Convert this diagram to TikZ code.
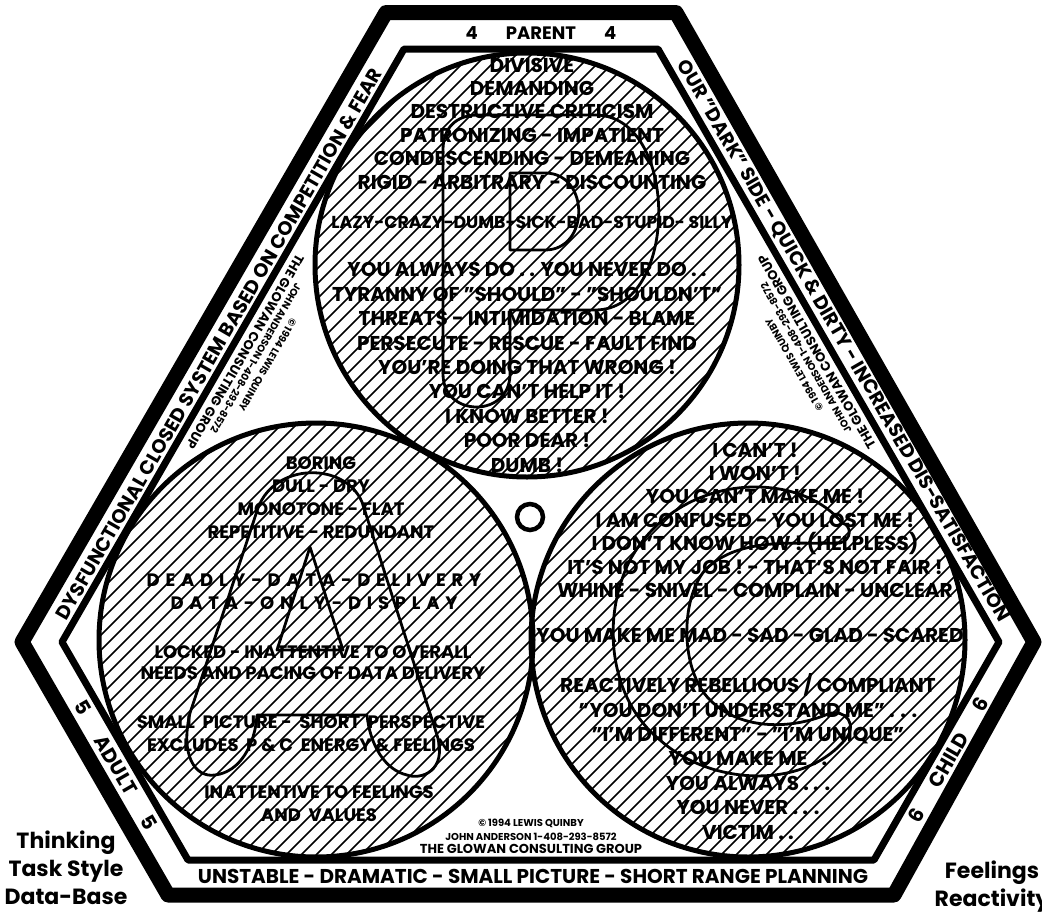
\documentclass[tikz,border=0pt]{standalone}
\usepackage{fontspec}
\setmainfont{Poppins}
\usetikzlibrary{calc}

\begin{document}
\begin{tikzpicture}[x=1pt, y=-1pt,
        hx/.style={line width=#1, line join=round},
        rim/.style={line width=5pt},
        glyph/.style={line width=2.8pt, line join=round},
        hatch/.style={line width=1.5pt},
        tx/.style={align=center, inner sep=0pt, font=\bfseries\fontsize{20}{23.4}\selectfont},
        txa/.style={align=center, inner sep=0pt, font=\bfseries\fontsize{18}{23}\selectfont},
        bd/.style={inner sep=0pt, font=\bfseries\fontsize{19.3}{24}\selectfont},
        sm/.style={align=center, inner sep=0pt, font=\bfseries\fontsize{10}{13.5}\selectfont},
        cn/.style={align=center, inner sep=0pt, font=\bfseries\fontsize{22}{28}\selectfont}
    ]
        \useasboundingbox (0,0) rectangle (1042,911);
        \fill[white] (0,0) rectangle (1042,911);
        \coordinate (P) at (527,265);
        \coordinate (A) at (316,640);
        \coordinate (C) at (748,640);

        \node[tx] (p1) at (532,123.5) {DIVISIVE\\DEMANDING\\DESTRUCTIVE CRITICISM\\PATRONIZING - IMPATIENT\\CONDESCENDING - DEMEANING\\RIGID - ARBITRARY - DISCOUNTING};
        \node[tx, font=\bfseries\fontsize{17.3}{20}\selectfont] (p2) at (532,222) {LAZY-CRAZY-DUMB-SICK-BAD-STUPID- SILLY};
        \node[tx] (p3) at (527,367.5) {YOU ALWAYS DO . . YOU NEVER DO . .\\[1pt]TYRANNY OF "SHOULD" - "SHOULDN'T"\\[1pt]THREATS - INTIMIDATION - BLAME\\[1pt]PERSECUTE - RESCUE - FAULT FIND\\[1pt]YOU'RE DOING THAT WRONG !\\[1pt]YOU CAN'T HELP IT !\\[1pt]I KNOW BETTER !\\[1pt]POOR DEAR !\\[1pt]DUMB !};

        \node[txa] (a1) at (321,498) {BORING\\DULL - DRY\\MONOTONE - FLAT\\REPETITIVE - REDUNDANT};
        \node[txa] (a2) at (314,591.5) {\spaceskip=5.8pt\relax D E A D L Y - D A T A - D E L I V E R Y\\\spaceskip=5.8pt\relax D A T A - O N L Y - D I S P L A Y};
        \node[txa] (a3) at (313,662.5) {LOCKED - INATTENTIVE TO OVERALL\\[-2pt]NEEDS AND PACING OF DATA DELIVERY};
        \node[txa] (a4) at (311,733.5) {SMALL\ \ PICTURE -\ \ SHORT\ \ PERSPECTIVE\\EXCLUDES\ \ P \& C\ \ ENERGY \& FEELINGS};
        \node[txa] (a5) at (319,803.5) {INATTENTIVE TO FEELINGS\\AND\ \ VALUES};

        \node[tx] (c1) at (755,520) {I CAN'T !\\I WON'T !\\YOU CAN'T MAKE ME !\\I AM CONFUSED - YOU LOST ME !\\I DON'T KNOW HOW ! (HELPLESS)\\IT'S NOT MY JOB ! - THAT'S NOT FAIR !\\WHINE - SNIVEL - COMPLAIN - UNCLEAR};
        \node[tx] (c2) at (750,635) {YOU MAKE ME MAD - SAD - GLAD - SCARED};
        \node[tx] (c3) at (748,756.5) {REACTIVELY REBELLIOUS / COMPLIANT\\[1pt]"YOU DON'T UNDERSTAND ME" . . .\\[1pt]"I'M DIFFERENT" - "I'M UNIQUE"\\[1pt]YOU MAKE ME . .\\[1pt]YOU ALWAYS . . .\\[1pt]YOU NEVER . . .\\[1pt]VICTIM . .};

        \begin{scope}
            \clip (P) circle[radius=212] (A) circle[radius=217] (C) circle[radius=217];
            \foreach \k in {481,496,...,1720}
                \draw[hatch] (\k,0) -- ++(-1000,1000);
        \end{scope}

        \draw[glyph] (443,374) -- (443,150) .. controls (443,128) and (456,115) .. (478,115) -- (595,115)
            .. controls (680,115) and (680,310) .. (595,310) -- (510,310) -- (510,374)
            .. controls (510,418) and (443,418) .. (443,374) -- cycle;
        \draw[glyph] (510,173) -- (545,173) .. controls (590,173) and (590,250) .. (545,250) -- (510,250) -- cycle;

        \draw[glyph] (190,713) -- (258,508) .. controls (275,462) and (345,462) .. (362,502) -- (437,735)
            .. controls (448,772) and (420,780) .. (407,775) .. controls (385,770) and (370,745) .. (367,715)
            -- (257,715) .. controls (255,745) and (240,772) .. (215,775)
            .. controls (195,778) and (180,755) .. (190,713) -- cycle;
        \draw[glyph] (310,547) -- (343,650) -- (277,650) -- cycle;

        \draw[glyph] (842,523) .. controls (800,470) and (680,470) .. (630,560)
            .. controls (600,620) and (610,700) .. (660,740)
            .. controls (710,785) and (800,790) .. (843,742)
            .. controls (860,725) and (845,708) .. (828,714)
            .. controls (790,730) and (740,730) .. (710,700)
            .. controls (680,670) and (680,600) .. (705,570)
            .. controls (740,535) and (800,545) .. (840,543)
            .. controls (852,540) and (852,525) .. (842,523) -- cycle;

        \draw[rim] (P) circle[radius=212];
        \draw[rim] (A) circle[radius=217];
        \draw[rim] (C) circle[radius=217];
        \node[draw, circle, line width=4.5pt, minimum size=26pt, inner sep=0pt] (o) at (530,517) {};

        \draw[hx=15pt] (386,12.5) -- (676,12.5) -- (1034,642) -- (894,895) -- (168,895) -- (22,642) -- cycle;
        \draw[hx=7pt] (404,49) -- (658,49) -- (999,642) -- (874,860) -- (188,860) -- (62,642) -- cycle;

        \node[bd, font=\bfseries\fontsize{18}{20}\selectfont] (par) at (541,33.5) {4\hspace{28pt}PARENT\hspace{28pt}4};
        \node[bd, rotate=60] (dys) at (219,344) {DYSFUNCTIONAL CLOSED SYSTEM BASED ON COMPETITION \& FEAR};
        \node[bd, rotate=-60] (dark) at (843,341) {OUR "DARK" SIDE - QUICK \& DIRTY - INCREASED DIS-SATISFACTION};
        \node[bd, font=\bfseries\fontsize{20}{24}\selectfont] (uns) at (533,876) {UNSTABLE - DRAMATIC - SMALL PICTURE - SHORT RANGE PLANNING};
        \node[bd, font=\bfseries\fontsize{20}{24}\selectfont, rotate=-60] (adu) at (116,765) {5\hspace{28pt}ADULT\hspace{28pt}5};
        \node[bd, font=\bfseries\fontsize{20}{24}\selectfont, rotate=60] (chi) at (948,760) {6\hspace{28pt}CHILD\hspace{28pt}6};

        \node[sm] (cpb) at (531,836.5) {© 1994 LEWIS QUINBY\\JOHN ANDERSON 1-408-293-8572\\{\fontsize{13}{13.5}\selectfont THE GLOWAN CONSULTING GROUP}};
        \node[sm, rotate=240] (cpl) at (256,358) {© 1994 LEWIS QUINBY\\JOHN ANDERSON 1-408-293-8572\\{\fontsize{13}{13.5}\selectfont THE GLOWAN CONSULTING GROUP}};
        \node[sm, rotate=120] (cpr) at (806,358) {© 1994 LEWIS QUINBY\\JOHN ANDERSON 1-408-293-8572\\{\fontsize{13}{13.5}\selectfont THE GLOWAN CONSULTING GROUP}};

        \node[cn] (thk) at (66,868) {Thinking\\Task Style\\Data-Base};
        \node[cn] (fee) at (992,887) {Feelings\\Reactivity};
    \end{tikzpicture}
\end{document}
